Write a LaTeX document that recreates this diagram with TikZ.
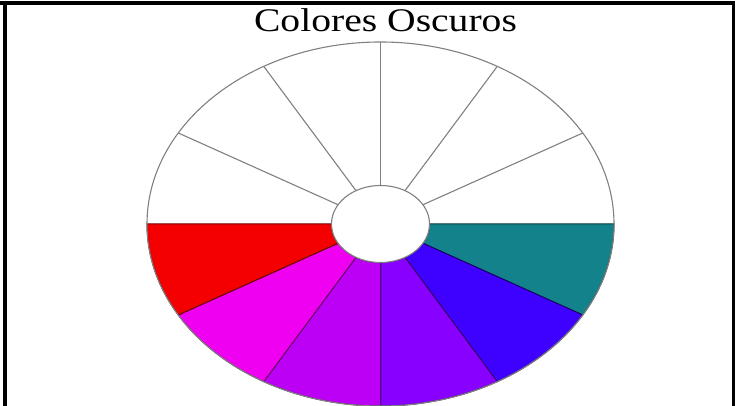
\documentclass[tikz,border=0pt]{standalone}
\usepackage{fontspec}
\setmainfont{Liberation Serif}
\definecolor{cRojo}{RGB}{244,0,0}
\definecolor{cMagenta}{RGB}{240,0,240}
\definecolor{cPurpura}{RGB}{188,0,245}
\definecolor{cVioleta}{RGB}{136,0,255}
\definecolor{cAzul}{RGB}{62,0,255}
\definecolor{cVerde}{RGB}{20,130,138}
\begin{document}
\begin{tikzpicture}[x=1pt, y=1pt,
  marco/.style={line width=3.5pt},
  raya/.style={draw=gray, line width=1.1pt},
  titulo/.style={anchor=base, inner sep=0pt, font=\fontsize{33}{33}\selectfont}]
\useasboundingbox (0,0) rectangle (736,406);
\draw[marco] (5,0) -- (5,403) -- (0,403) -- (735,403);
\draw[marco] (733.5,403) -- (733.5,0);
\node[titulo] (titulo) at (385.5,374) {\scalebox{1.2}[1]{Colores Oscuros}};
\begin{scope}[shift={(380.5,182)}]
% mitad de abajo: colores oscuros
\foreach \col [count=\i, evaluate=\i as \ta using 360-30*\i, evaluate=\i as \tb using 390-30*\i] in {cVerde,cAzul,cVioleta,cPurpura,cMagenta,cRojo}
  \filldraw[fill=\col, draw=\col!45!black, line width=1pt] (\ta:233.5 and 182) arc[start angle=\ta, end angle=\tb, x radius=233.5, y radius=182]
    -- (\tb:49 and 38.5) arc[start angle=\tb, end angle=\ta, x radius=49, y radius=38.5] -- cycle;
% mitad de arriba: en blanco
\foreach \a in {30,60,...,150}
  \draw[raya] (\a:49 and 38.5) -- (\a:233.5 and 182);
\draw[raya] (0,0) ellipse[x radius=233.5, y radius=182];
\filldraw[raya, fill=white] (0,0) ellipse[x radius=49, y radius=38.5];
\end{scope}
\end{tikzpicture}
\end{document}
